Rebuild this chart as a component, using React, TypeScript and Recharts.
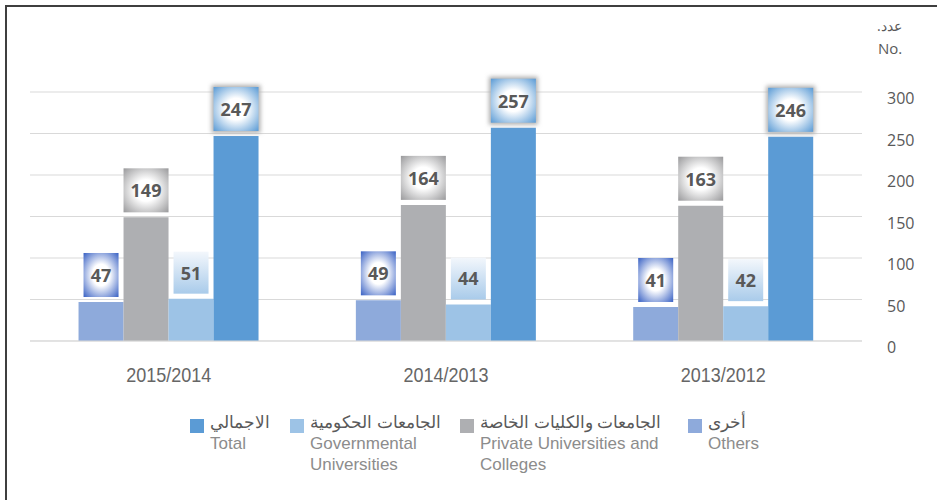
import { Bar, BarChart, CartesianGrid, LabelList, XAxis, YAxis } from "recharts"

const years = ["2015/2014", "2014/2013", "2013/2012"]
const others = [47, 49, 41]
const privateUni = [149, 164, 163]
const govUni = [51, 44, 42]
const total = [247, 257, 246]
const yTicks = [0, 50, 100, 150, 200, 250, 300]

const data = years.map((year, i) => ({
  year,
  others: others[i],
  privateUni: privateUni[i],
  govUni: govUni[i],
  total: total[i],
}))

const COLORS = {
  others: "#8eaadb",
  privateUni: "#aeafb2",
  govUni: "#9dc3e6",
  total: "#5b9bd5",
}

const legendItems = [
  { key: "total", ar: "الاجمالي", en: ["Total"], left: 190, color: COLORS.total },
  { key: "govUni", ar: "الجامعات الحكومية", en: ["Governmental", "Universities"], left: 290, color: COLORS.govUni },
  { key: "privateUni", ar: "الجامعات والكليات الخاصة", en: ["Private Universities and", "Colleges"], left: 460, color: COLORS.privateUni },
  { key: "others", ar: "أخرى", en: ["Others"], left: 688, color: COLORS.others },
]

type BoxKind = "others" | "privateUni" | "govUni" | "total"

function makeLabel(kind: BoxKind, boxW: number, boxH: number) {
  return (props: any) => {
    const { x, y, width, value } = props
    const cx = Number(x) + Number(width) / 2
    const top = Number(y) - 5 - boxH
    const left = cx - boxW / 2
    const id = "grad-" + kind
    let grad
    if (kind === "govUni") {
      grad = (
        <linearGradient id={id} x1="0" y1="0" x2="0" y2="1">
          <stop offset="0%" stopColor="#f3f7fc" />
          <stop offset="100%" stopColor="#a9cbea" />
        </linearGradient>
      )
    } else {
      const edge = kind === "others" ? "#3a62c4" : kind === "privateUni" ? "#9a9a9c" : "#5b9bd5"
      grad = (
        <radialGradient id={id} cx="50%" cy="50%" r="70%">
          <stop offset="0%" stopColor="#ffffff" />
          <stop offset="35%" stopColor="#ffffff" />
          <stop offset="100%" stopColor={edge} />
        </radialGradient>
      )
    }
    return (
      <g>
        <defs>
          {grad}
          <filter id="glow-total" x="-30%" y="-30%" width="160%" height="160%">
            <feGaussianBlur stdDeviation="2" />
          </filter>
        </defs>
        {kind === "total" && (
          <rect x={left - 2} y={top - 2} width={boxW + 4} height={boxH + 4} fill="#b0b0b0" filter="url(#glow-total)" />
        )}
        <rect x={left} y={top} width={boxW} height={boxH} fill={`url(#${id})`} />
        <text
          x={cx}
          y={top + boxH / 2}
          textAnchor="middle"
          dominantBaseline="central"
          fontFamily="'Open Sans', sans-serif"
          fontWeight={700}
          fontSize={18}
          fill="#595959"
        >
          {value}
        </text>
      </g>
    )
  }
}

const XTick = (props: any) => {
  const { x, y, payload } = props
  return (
    <g transform={`translate(${x},${y})`}>
      <text
        transform="scale(0.9,1)"
        x={0}
        y={0}
        dy={15}
        textAnchor="middle"
        fontFamily="'Liberation Sans', Arial, sans-serif"
        fontSize={20}
        fill="#666666"
      >
        {payload.value}
      </text>
    </g>
  )
}

const YTick = (props: any) => {
  const { x, y, payload } = props
  return (
    <text x={x} y={Number(y) + 6} textAnchor="start" dominantBaseline="central" fontFamily="'Open Sans', sans-serif" fontSize={16} fill="#595959">
      {payload.value}
    </text>
  )
}

export default function App() {
  return (
    <div style={{ position: "absolute", left: 0, top: 0, width: 937, height: 500, background: "#fff" }}>
      <div
        style={{
          position: "absolute",
          left: 5,
          top: 5,
          width: 932,
          height: 495,
          borderTop: "2px solid #3f3f3f",
          borderLeft: "2px solid #3f3f3f",
          boxSizing: "border-box",
        }}
      />
      <BarChart
        width={937}
        height={500}
        data={data}
        margin={{ top: 92, right: 0, left: 30, bottom: 129 }}
        barCategoryGap="17.5%"
        barGap={0}
      >
        <CartesianGrid vertical={false} stroke="#d9d9d9" />
        <XAxis
          dataKey="year"
          axisLine={{ stroke: "#d9d9d9" }}
          tickLine={false}
          tickSize={0}
          tickMargin={26}
          height={30}
          tick={<XTick />}
        />
        <YAxis
          orientation="right"
          domain={[0, 300]}
          ticks={yTicks}
          axisLine={false}
          tickLine={false}
          tickSize={0}
          tickMargin={25}
          width={75}
          tick={<YTick />}
        />
        <Bar dataKey="others" fill={COLORS.others} isAnimationActive={false}>
          <LabelList dataKey="others" content={makeLabel("others", 35, 44)} />
        </Bar>
        <Bar dataKey="privateUni" fill={COLORS.privateUni} isAnimationActive={false}>
          <LabelList dataKey="privateUni" content={makeLabel("privateUni", 45, 44)} />
        </Bar>
        <Bar dataKey="govUni" fill={COLORS.govUni} isAnimationActive={false}>
          <LabelList dataKey="govUni" content={makeLabel("govUni", 35, 42)} />
        </Bar>
        <Bar dataKey="total" fill={COLORS.total} isAnimationActive={false}>
          <LabelList dataKey="total" content={makeLabel("total", 45, 44)} />
        </Bar>
      </BarChart>
      <div
        style={{
          position: "absolute",
          left: 877,
          top: 19,
          direction: "rtl",
          fontFamily: "'Open Sans', sans-serif",
          fontSize: 14,
          lineHeight: "14px",
          color: "#595959",
        }}
      >
        عدد.
      </div>
      <div
        style={{
          position: "absolute",
          left: 878,
          top: 41,
          fontFamily: "'Open Sans', sans-serif",
          fontSize: 15,
          lineHeight: "15px",
          color: "#595959",
        }}
      >
        No.
      </div>
      {legendItems.map((item) => (
        <div key={item.key} style={{ position: "absolute", left: item.left, top: 413, display: "flex", alignItems: "flex-start" }}>
          <div style={{ width: 14, height: 14, background: item.color, marginTop: 6, marginRight: 6 }} />
          <div style={{ fontFamily: "'Liberation Sans', Arial, sans-serif", fontSize: 17, lineHeight: "19px" }}>
            <div style={{ color: "#595959", direction: "rtl", textAlign: "left" }}>{item.ar}</div>
            {item.en.map((line) => (
              <div key={line} style={{ color: "#8c8c8c", marginTop: 2, whiteSpace: "nowrap" }}>
                {line}
              </div>
            ))}
          </div>
        </div>
      ))}
    </div>
  )
}
